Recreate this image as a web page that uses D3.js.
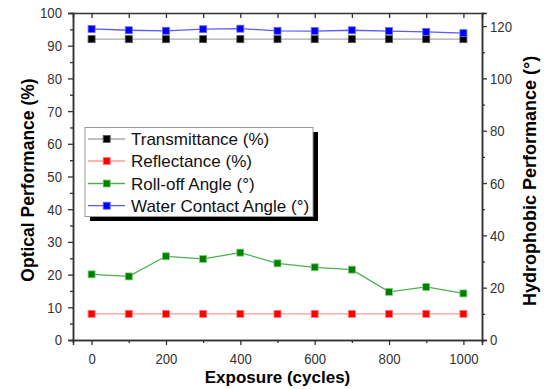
<!DOCTYPE html>
<html><head><meta charset="utf-8">
<script src="https://cdn.jsdelivr.net/npm/d3@7"></script>
<style>body{margin:0;background:#fff}text{font-family:"Liberation Sans",Arial,sans-serif}</style>
</head><body><svg id="c" width="548" height="389"></svg>
<script>
// ---- data ----
const cycles = [0, 100, 200, 300, 400, 500, 600, 700, 800, 900, 1000];
const transmittance = [92, 92, 92, 92, 92, 92, 92, 92, 92, 92, 92];          // % (left axis)
const reflectance = [8, 8, 8, 8, 8, 8, 8, 8, 8, 8, 8];                         // % (left axis)
const rollOffAngle = [25.1, 24.3, 32.0, 31.0, 33.4, 29.3, 27.8, 26.9, 18.4, 20.3, 17.8];   // ° (right axis)
const contactAngle = [118.9, 118.4, 118.2, 118.8, 119.0, 118.2, 118.1, 118.4, 118.1, 117.8, 117.3]; // ° (right axis)
const seriesNames = ["Transmittance (%)", "Reflectance (%)", "Roll-off Angle (\u00B0)", "Water Contact Angle (\u00B0)"];
const xTickLabels = [0, 200, 400, 600, 800, 1000];
const xMinorTicks = [0, 100, 200, 300, 400, 500, 600, 700, 800, 900, 1000];
const leftTicks = [0, 10, 20, 30, 40, 50, 60, 70, 80, 90, 100];
const leftMinor = [5, 15, 25, 35, 45, 55, 65, 75, 85, 95];
const rightTicks = [0, 20, 40, 60, 80, 100, 120];
const rightMinor = [10, 30, 50, 70, 90, 110];

// ---- layout ----
const L = 73, R = 482, T = 13, B = 340;
const svg = d3.select("#c");
const x = d3.scaleLinear().domain([-50, 1050]).range([L, R]);
const yL = d3.scaleLinear().domain([0, 100]).range([B, T]);
const yR = d3.scaleLinear().domain([0, 125]).range([B, T]);
const sx = 0.85;
const axisCol = "#333";
const fmt = d3.format("d");

function styleAxis(g) {
  g.selectAll("path.domain").attr("stroke", axisCol).attr("stroke-width", 1.5);
  g.selectAll(".tick line").attr("stroke", axisCol).attr("stroke-width", 1.3);
  g.selectAll(".tick text").attr("fill", "#333").style("font-size", "15.5px")
    .style("font-family", '"Liberation Sans",Arial,sans-serif');
}
function squash(g) {
  g.selectAll(".tick text").attr("transform", `scale(${sx},1)`);
}

// minor ticks
svg.append("g").attr("transform", `translate(${L},0)`).call(d3.axisLeft(yL).tickValues(leftMinor).tickSize(3).tickFormat("")).call(styleAxis);
svg.append("g").attr("transform", `translate(${R},0)`).call(d3.axisRight(yR).tickValues(rightMinor).tickSize(3).tickFormat("")).call(styleAxis);
svg.append("g").attr("transform", `translate(0,${B})`).call(d3.axisBottom(x).tickValues(xMinorTicks.filter(v => !xTickLabels.includes(v))).tickSize(3).tickFormat("")).call(styleAxis);
// top axis (inward ticks, no labels)
svg.append("g").attr("transform", `translate(0,${T})`).call(d3.axisTop(x).tickValues(xMinorTicks).tickSize(-5).tickFormat("")).call(styleAxis);

// major axes
const gl = svg.append("g").attr("transform", `translate(${L},0)`)
  .call(d3.axisLeft(yL).tickValues(leftTicks).tickFormat(fmt).tickSize(5).tickPadding(11 / sx - 5)).call(styleAxis);
squash(gl);
const gr = svg.append("g").attr("transform", `translate(${R},0)`)
  .call(d3.axisRight(yR).tickValues(rightTicks).tickFormat(fmt).tickSize(5).tickPadding(8 / sx - 5)).call(styleAxis);
squash(gr);
const gb = svg.append("g").attr("transform", `translate(0,${B})`)
  .call(d3.axisBottom(x).tickValues(xTickLabels).tickFormat(fmt).tickSize(5).tickPadding(7.5)).call(styleAxis);
squash(gb);

// axis titles
svg.append("text").attr("transform", `translate(34,180) rotate(-90)`).attr("text-anchor", "middle")
  .style("font-weight", "bold").style("font-size", "17.5px").attr("fill", "#000").text("Optical Performance (%)");
svg.append("text").attr("transform", `translate(536,181) rotate(-90)`).attr("text-anchor", "middle")
  .style("font-weight", "bold").style("font-size", "18px").attr("fill", "#000").text("Hydrophobic Performance (\u00B0)");
svg.append("text").attr("x", 277.5).attr("y", 382.5).attr("text-anchor", "middle")
  .style("font-weight", "bold").style("font-size", "17px").attr("fill", "#000").text("Exposure (cycles)");

// series
const series = [
  { name: seriesNames[0], vals: transmittance, y: yL, line: "#aaaaaa", fill: "#000000", edge: "#555555" },
  { name: seriesNames[1], vals: reflectance, y: yL, line: "#ff9a9a", fill: "#ff0000", edge: "#ff7777" },
  { name: seriesNames[2], vals: rollOffAngle, y: yR, line: "#4fae4f", fill: "#007f00", edge: "#7fcf7f" },
  { name: seriesNames[3], vals: contactAngle, y: yR, line: "#5a5aff", fill: "#0000ff", edge: "#6a6aff" }
];
const ms = 7;
series.forEach(s => {
  const pts = cycles.map((c, i) => [c, s.vals[i]]);
  svg.append("path").datum(pts)
    .attr("d", d3.line().x(d => x(d[0])).y(d => s.y(d[1])))
    .attr("fill", "none").attr("stroke", s.line).attr("stroke-width", 1.3);
  svg.append("g").selectAll("rect").data(pts).join("rect")
    .attr("x", d => x(d[0]) - ms / 2).attr("y", d => s.y(d[1]) - ms / 2)
    .attr("width", ms).attr("height", ms)
    .attr("fill", s.fill).attr("stroke", s.edge).attr("stroke-width", 0.8);
});

// legend
const lg = svg.append("g");
lg.append("rect").attr("x", 90).attr("y", 132).attr("width", 228).attr("height", 89).attr("fill", "#000");
lg.append("rect").attr("x", 85).attr("y", 127.5).attr("width", 228).attr("height", 89)
  .attr("fill", "#fff").attr("stroke", "#999").attr("stroke-width", 1);
const rowY = [139, 161, 183.5, 205.7];
series.forEach((s, i) => {
  const yy = rowY[i];
  lg.append("line").attr("x1", 88).attr("x2", 125).attr("y1", yy).attr("y2", yy)
    .attr("stroke", s.line).attr("stroke-width", 1.3);
  lg.append("rect").attr("x", 106.7 - 3.5).attr("y", yy - 3.5).attr("width", 7).attr("height", 7)
    .attr("fill", s.fill).attr("stroke", s.edge).attr("stroke-width", 0.8);
  lg.append("text").attr("x", 131).attr("y", yy + 6.2).style("font-size", "17px").attr("fill", "#111").text(s.name);
});
</script></body></html>
